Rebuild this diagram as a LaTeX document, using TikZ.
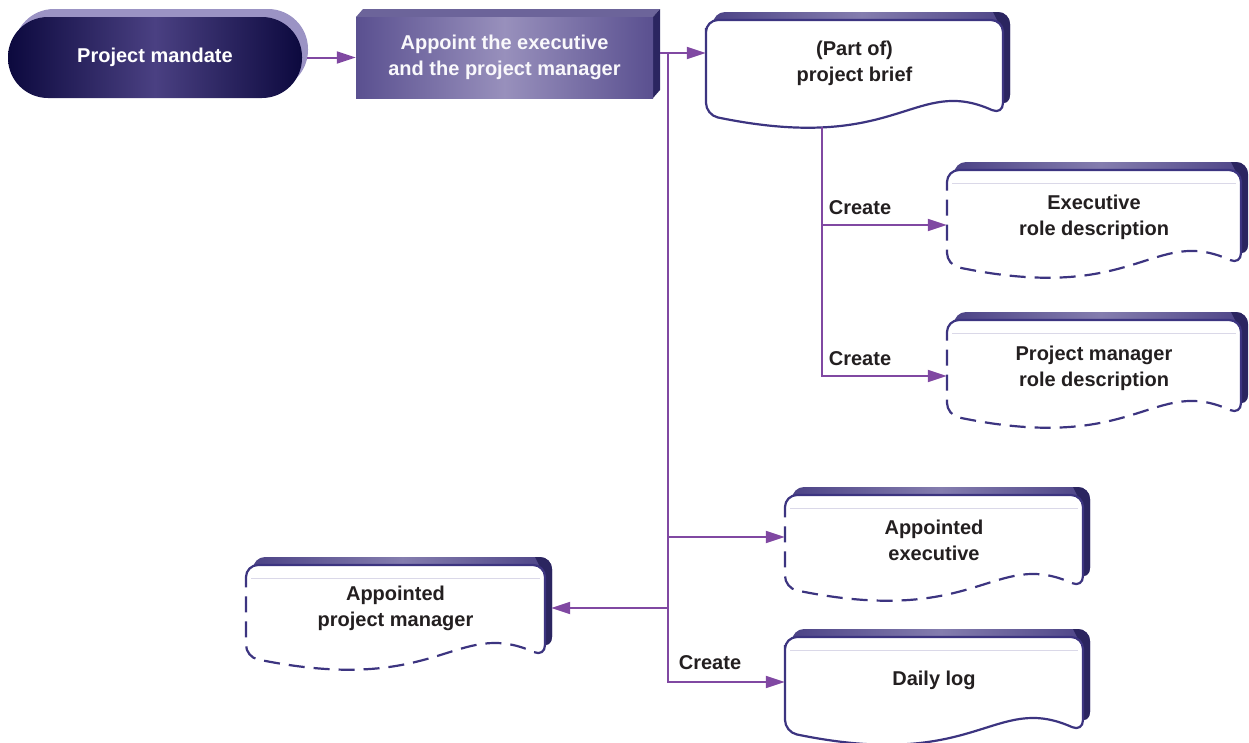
\documentclass[tikz,border=0pt]{standalone}
\usepackage{fontspec}
\setmainfont{Liberation Sans}
\usetikzlibrary{arrows.meta}
\definecolor{connc}{RGB}{128,72,162}
\definecolor{outl}{RGB}{60,52,128}
\definecolor{bandA}{RGB}{76,67,134}
\definecolor{bandB}{RGB}{132,125,174}
\definecolor{sideC}{RGB}{43,37,96}
\definecolor{navy}{RGB}{12,9,62}
\definecolor{navymid}{RGB}{74,64,130}
\definecolor{lav}{RGB}{155,147,196}
\definecolor{boxA}{RGB}{90,80,144}
\definecolor{boxB}{RGB}{152,144,188}
\definecolor{topf}{RGB}{108,100,154}
\definecolor{txt}{RGB}{35,31,32}
\definecolor{thinc}{RGB}{218,216,232}

% document outline path: L T R B
\newcommand\docpath[4]{({#1},{#2+20}) -- ({#1},{#2}) -- ({#3},{#2}) -- ({#3},{#4}) .. controls ({#1+0.7*(#3-#1)},{#4-40}) and ({#1+0.65*(#3-#1)},{#4+40}) .. ({#1},{#4}) -- cycle}
% back faces and white front
\newcommand\docbase[4]{%
  \shade[shift={(7,-8)}, left color=bandA, right color=bandA, middle color=bandB, rounded corners=12pt] \docpath{#1}{#2}{#3}{#4};
  \begin{scope}
    \clip ({#3-13},{#2-14}) -- ({#3+20},{#2-14}) -- ({#3+20},{#4+40}) -- ({#3-4},{#4+40}) -- ({#3-4},{#2+4}) -- cycle;
    \fill[shift={(7,-8)}, sideC, rounded corners=12pt] \docpath{#1}{#2}{#3}{#4};
  \end{scope}
  \fill[white, rounded corners=12pt] \docpath{#1}{#2}{#3}{#4};
}
\newcommand\docsolid[4]{\draw[docline] \docpath{#1}{#2}{#3}{#4};}
\newcommand\docdashed[4]{%
  \draw[docline] ({#1},{#2+18}) -- ({#1},{#2}) -- ({#3},{#2}) -- ({#3},{#4-12});
  \draw[docline, dash pattern=on 16pt off 9pt] ({#3},{#4-12}) -- ({#3},{#4}) .. controls ({#1+0.7*(#3-#1)},{#4-40}) and ({#1+0.65*(#3-#1)},{#4+40}) .. ({#1},{#4}) -- ({#1},{#2+18});
}
\newcommand\docthin[4]{\draw[thinc, line width=0.8pt] ({#1+5},{#2+13}) -- ({#3-5},{#2+13});}

\begin{document}
\begin{tikzpicture}[x=1pt,y=-1pt,
  conn/.style={draw=connc, line width=2pt, -{Triangle[length=19pt,width=12pt]}},
  docline/.style={draw=outl, line width=2.2pt, rounded corners=12pt},
  doc/.style={inner sep=0pt, align=center, text=txt, font=\bfseries\fontsize{20}{26}\selectfont},
  lbl/.style={inner sep=0pt, text=txt, font=\bfseries\fontsize{20}{24}\selectfont},
  white text/.style={inner sep=0pt, align=center, font=\bfseries\fontsize{20}{26}\selectfont}
]
\useasboundingbox (0,0) rectangle (1249,742);

% Project mandate (3D stadium)
\fill[lav, rounded corners=40pt] (14,9) rectangle (308,90);
\shade[left color=navy, right color=navy, middle color=navymid, rounded corners=40pt] (8,17) rectangle (302,98);

% Appoint box (3D block)
\fill[topf] (356,17) -- (363,9) -- (660,9) -- (653,17) -- cycle;
\fill[sideC] (653,17) -- (660,9) -- (660,90) -- (653,98) -- cycle;
\shade[left color=boxA, right color=boxA, middle color=boxB] (356,17) rectangle (653,98);

% Documents
\docbase{706}{20}{1003}{115}\docsolid{706}{20}{1003}{115}
\docbase{947}{170}{1241}{265}\docdashed{947}{170}{1241}{265}\docthin{947}{170}{1241}{265}
\docbase{947}{320}{1241}{415}\docdashed{947}{320}{1241}{415}\docthin{947}{320}{1241}{415}
\docbase{785}{495}{1083}{588}\docdashed{785}{495}{1083}{588}\docthin{785}{495}{1083}{588}
\docbase{246}{565}{545}{657}\docdashed{246}{565}{545}{657}\docthin{246}{565}{545}{657}
\docbase{785}{637}{1083}{732}\docsolid{785}{637}{1083}{732}\docthin{785}{637}{1083}{732}

% Nodes
\node[white text, text=white, minimum width=294pt] (mandate) at (155,57.5) {Project mandate};
\node[white text, text=white!94!boxB, minimum width=297pt] (appoint) at (504.5,57.5) {Appoint the executive\\and the project manager};
\node[doc, minimum width=297pt] (brief) at (854.5,63) {(Part of)\\project brief};
\node[doc, minimum width=294pt] (erole) at (1094,217) {Executive\\role description};
\node[doc, minimum width=294pt] (prole) at (1094,368) {Project manager\\role description};
\node[doc, minimum width=298pt] (aexec) at (934,540) {Appointed\\executive};
\node[doc, minimum width=299pt] (apm) at (395.5,608) {Appointed\\project manager};
\node[doc, minimum width=298pt] (dlog) at (934,680) {Daily log};
\node[lbl] (c1) at (860,208) {Create};
\node[lbl] (c2) at (860,359) {Create};
\node[lbl] (c3) at (710,663) {Create};

% Connectors
\coordinate (aout) at (660,53);
\coordinate (j) at (668,53);
\coordinate (bb) at (822,127);
\draw[conn] ([xshift=5pt]mandate.east) -- (appoint.west);
\draw[conn] (aout) -- (brief.west |- aout);
\draw[conn] (j) |- ([yshift=3pt]aexec.west);
\draw[conn] (j) |- ([xshift=6pt]apm.east);
\draw[conn] (j) |- ([yshift=-2pt]dlog.west);
\draw[conn] (bb) |- ([yshift=-8pt]erole.west);
\draw[conn] (bb) |- ([yshift=-8pt]prole.west);
\end{tikzpicture}
\end{document}
